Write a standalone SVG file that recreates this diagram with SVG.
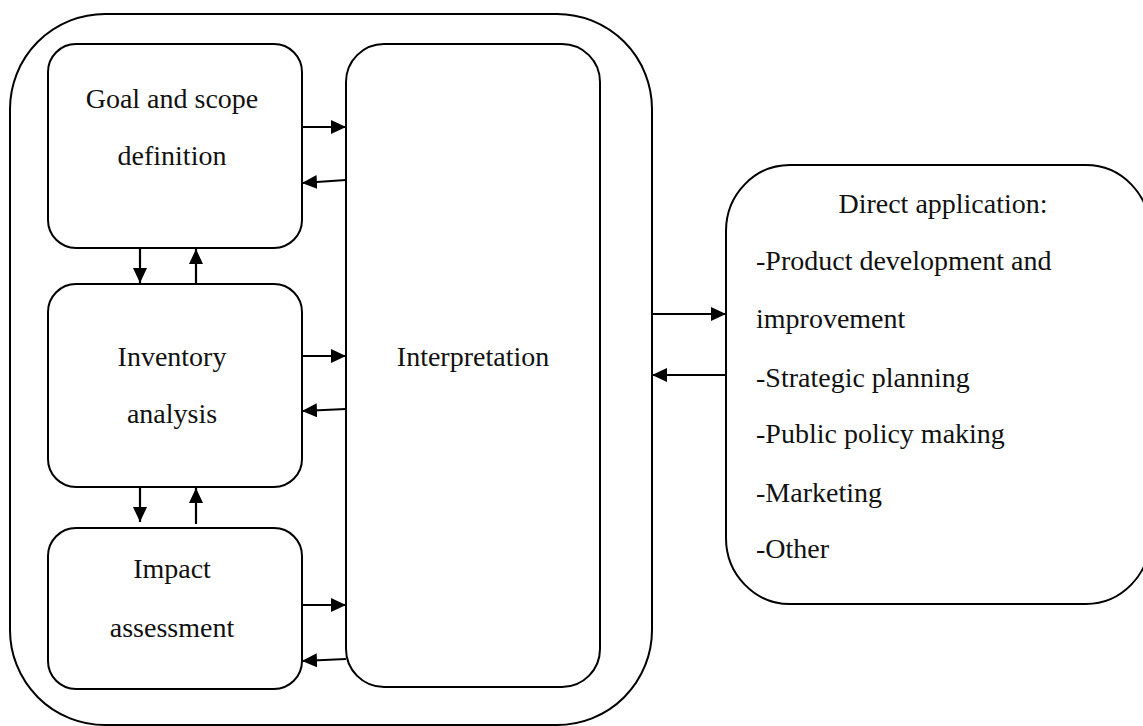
<svg xmlns="http://www.w3.org/2000/svg" width="1143" height="726" viewBox="0 0 1143 726">
<defs>
<style>
.box{fill:#fff;stroke:#000;stroke-width:2}
.t{font-family:"Liberation Serif","Times New Roman",serif;font-size:28px;fill:#111}
.c{text-anchor:middle}
.ln{stroke:#000;stroke-width:2.2;fill:none;marker-end:url(#ah)}
</style>
<marker id="ah" markerUnits="userSpaceOnUse" markerWidth="16" markerHeight="14" refX="15" refY="7" orient="auto">
<path d="M0,0 L15,7 L0,14 z" fill="#000"/>
</marker>
</defs>
<rect width="1143" height="726" fill="#fff"/>
<g id="lca-framework">
<rect class="box" x="10" y="14" width="642" height="711" rx="95" ry="95"/>
</g>
<g id="goal">
<rect class="box" x="48" y="44" width="254" height="204" rx="28" ry="28"/>
<text class="t c" x="172" y="108">Goal and scope</text>
<text class="t c" x="172" y="165">definition</text>
</g>
<g id="inventory">
<rect class="box" x="48" y="284" width="254" height="203" rx="28" ry="28"/>
<text class="t c" x="172" y="366">Inventory</text>
<text class="t c" x="172" y="423">analysis</text>
</g>
<g id="impact">
<rect class="box" x="48" y="528" width="254" height="161" rx="28" ry="28"/>
<text class="t c" x="172" y="578">Impact</text>
<text class="t c" x="172" y="637">assessment</text>
</g>
<g id="interpretation">
<rect class="box" x="346" y="44" width="254" height="643" rx="38" ry="38"/>
<text class="t c" x="473" y="366">Interpretation</text>
</g>
<g id="direct-application">
<rect class="box" x="726" y="165" width="424" height="439" rx="64" ry="66"/>
<text class="t c" x="943" y="213">Direct application:</text>
<text class="t" x="756" y="270">-Product development and</text>
<text class="t" x="756" y="328">improvement</text>
<text class="t" x="756" y="387">-Strategic planning</text>
<text class="t" x="756" y="443">-Public policy making</text>
<text class="t" x="756" y="502">-Marketing</text>
<text class="t" x="756" y="558">-Other</text>
</g>
<g id="connectors">
<line class="ln" x1="302" y1="127" x2="346" y2="127"/>
<line class="ln" x1="346" y1="180" x2="302" y2="183"/>
<line class="ln" x1="302" y1="356" x2="346" y2="356"/>
<line class="ln" x1="346" y1="409" x2="302" y2="411"/>
<line class="ln" x1="302" y1="605" x2="346" y2="605"/>
<line class="ln" x1="346" y1="659" x2="302" y2="661"/>
<line class="ln" x1="140" y1="248" x2="140" y2="283"/>
<line class="ln" x1="196" y1="284" x2="196" y2="249"/>
<line class="ln" x1="140" y1="487" x2="140" y2="522"/>
<line class="ln" x1="196" y1="524" x2="196" y2="488"/>
<line class="ln" x1="652" y1="314" x2="726" y2="314"/>
<line class="ln" x1="726" y1="375" x2="652" y2="375"/>
</g>
</svg>
